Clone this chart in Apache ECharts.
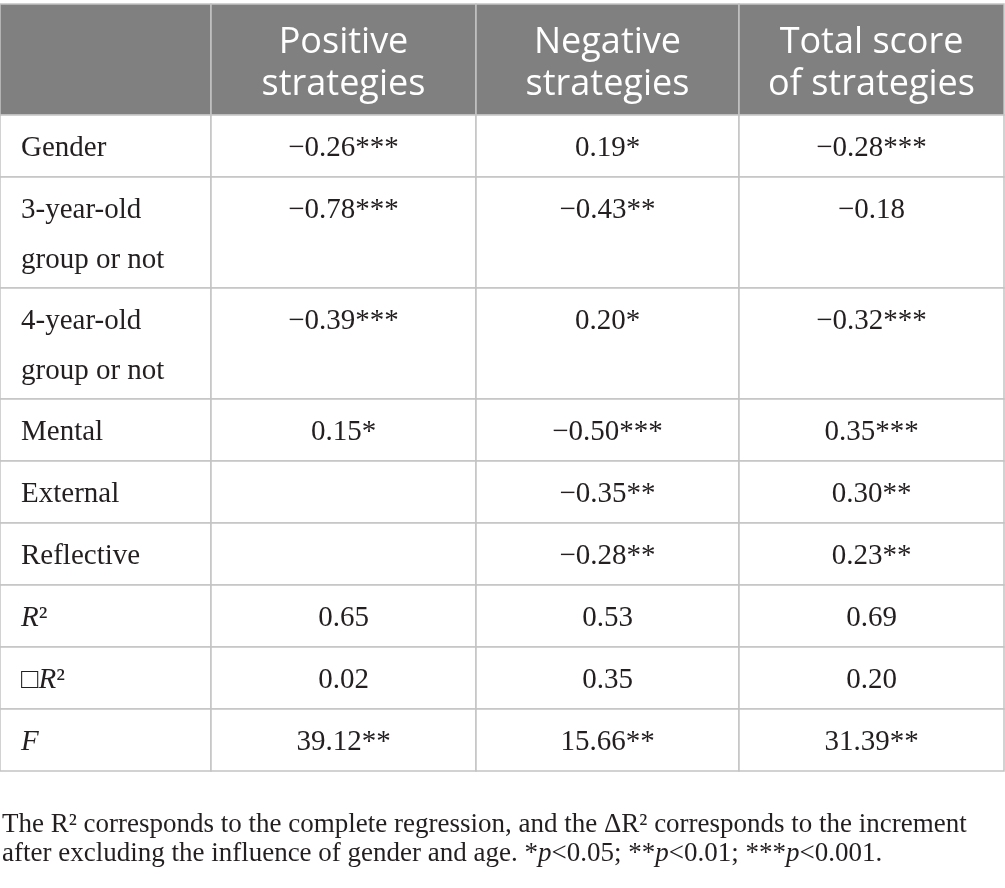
<!DOCTYPE html>
<html><head><meta charset="utf-8">
<script src="https://cdn.jsdelivr.net/npm/echarts@6/dist/echarts.min.js"></script>
<style>html,body{margin:0;padding:0;background:#fff}#c{width:1005px;height:888px}</style>
</head><body><div id="c"></div>
<script>
// ---- data ----
const columnHeaders = ['Positive\nstrategies', 'Negative\nstrategies', 'Total score\nof strategies'];
const rowLabels = ['Gender', '3-year-old\ngroup or not', '4-year-old\ngroup or not', 'Mental', 'External', 'Reflective', '{i|R}²', '□{i|R}²', '{i|F}'];
const positiveStrategies = ['−0.26***', '−0.78***', '−0.39***', '0.15*', '', '', '0.65', '0.02', '39.12**'];
const negativeStrategies = ['0.19*', '−0.43**', '0.20*', '−0.50***', '−0.35**', '−0.28**', '0.53', '0.35', '15.66**'];
const totalScore = ['−0.28***', '−0.18', '−0.32***', '0.35***', '0.30**', '0.23**', '0.69', '0.20', '31.39**'];
const footnoteLines = [
  'The R² corresponds to the complete regression, and the ΔR² corresponds to the increment',
  'after excluding the influence of gender and age. *{i|p}<0.05; **{i|p}<0.01; ***{i|p}<0.001.'
];

// ---- layout ----
const COL_EDGES = [0, 211, 476, 739, 1004];
const TOP = 4, LINE = 49, PAD = 13;
const SERIF = '"Liberation Serif", "DejaVu Serif", serif';
const SANS = '"Open Sans", "Noto Sans", sans-serif';
const TEXT = '#231f20';
const BODY_SIZE = 29, FOOT_SIZE = 27, HEAD_SIZE = 36;
const valueCols = [positiveStrategies, negativeStrategies, totalScore];
const lineCount = s => s.split('\n').length;
const rowEdges = [TOP, TOP + PAD + LINE * 2];
rowLabels.forEach(l => rowEdges.push(rowEdges[rowEdges.length - 1] + PAD + LINE * lineCount(l)));

const cells = [];
for (let r = 0; r <= rowLabels.length; r++) for (let c = 0; c < 4; c++) cells.push([c, r]);

const richBody = {
  i: { fontStyle: 'italic', fontFamily: SERIF, fontSize: BODY_SIZE, fill: TEXT, lineHeight: 50 }
};

const chart = echarts.init(document.getElementById('c'), null, { renderer: 'canvas' });
chart.setOption({
  animation: false,
  backgroundColor: '#ffffff',
  grid: { left: 0, top: 0, right: 1, bottom: 0 },
  xAxis: { type: 'value', min: 0, max: 1004, show: false },
  yAxis: { type: 'value', min: 0, max: 888, inverse: true, show: false },
  series: [{
    type: 'custom',
    coordinateSystem: 'cartesian2d',
    data: cells,
    clip: false,
    renderItem(params, api) {
      const c = api.value(0), r = api.value(1);
      const p0 = api.coord([COL_EDGES[c], rowEdges[r]]);
      const p1 = api.coord([COL_EDGES[c + 1], rowEdges[r + 1]]);
      const w = p1[0] - p0[0], h = p1[1] - p0[1];
      const header = r === 0;
      const children = [{
        type: 'rect',
        shape: { x: p0[0], y: p0[1], width: w, height: h },
        style: { fill: header ? '#808080' : '#ffffff', stroke: '#c3c3c3', lineWidth: 1.5 }
      }];
      if (header) {
        if (c > 0) children.push({
          type: 'text', x: p0[0] + w / 2, y: p0[1] + h / 2 + 4,
          style: { text: columnHeaders[c - 1], fill: '#ffffff', fontFamily: SANS, fontSize: HEAD_SIZE,
                   lineHeight: 42, align: 'center', verticalAlign: 'middle' }
        });
      } else if (c === 0) {
        children.push({
          type: 'text', x: p0[0] + 21, y: p0[1] + 8,
          style: { text: rowLabels[r - 1], fill: TEXT, fontFamily: SERIF, fontSize: BODY_SIZE,
                   lineHeight: 50, align: 'left', verticalAlign: 'top', rich: richBody }
        });
      } else {
        children.push({
          type: 'text', x: p0[0] + w / 2, y: p0[1] + 8,
          style: { text: valueCols[c - 1][r - 1], fill: TEXT, fontFamily: SERIF, fontSize: BODY_SIZE,
                   lineHeight: 50, align: 'center', verticalAlign: 'top' }
        });
      }
      return { type: 'group', children };
    }
  }],
  graphic: [{
    type: 'text', left: 2, top: 810,
    style: {
      text: footnoteLines.join('\n'), fill: TEXT, fontFamily: SERIF, fontSize: FOOT_SIZE, lineHeight: 29,
      rich: { i: { fontStyle: 'italic', fontFamily: SERIF, fontSize: FOOT_SIZE, fill: TEXT, lineHeight: 29 } }
    }
  }]
});
</script></body></html>
